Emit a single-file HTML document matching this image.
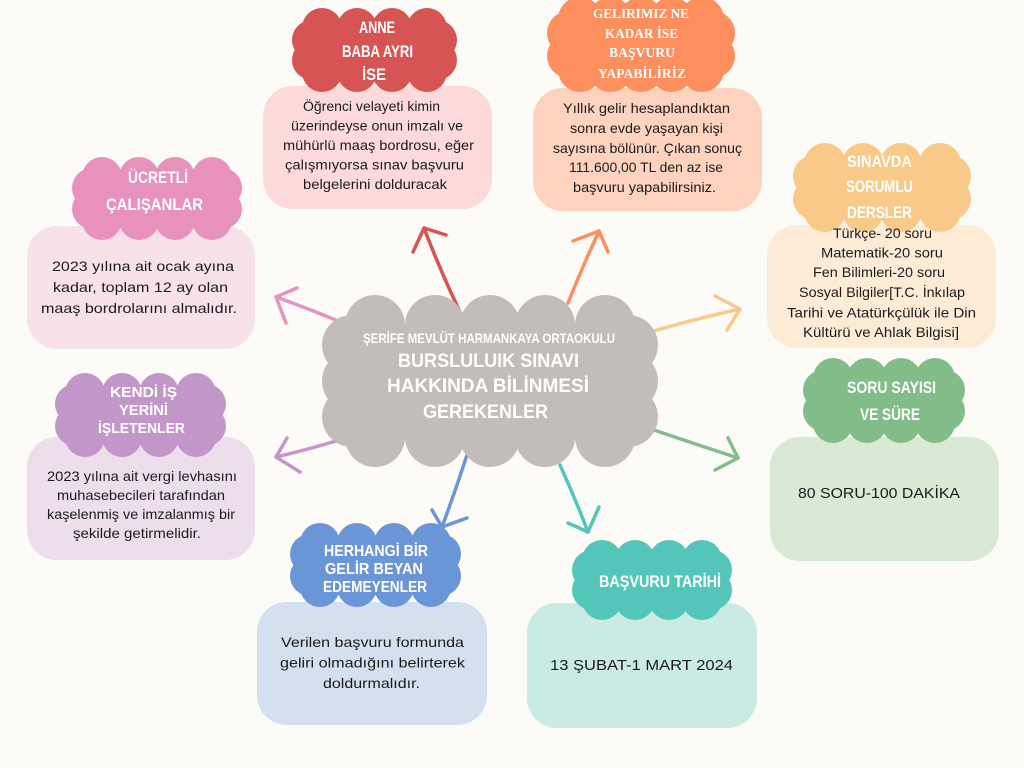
<!DOCTYPE html>
<html>
<head>
<meta charset="utf-8">
<style>
  html,body{margin:0;padding:0;background:#fdfbf7;}
  svg{display:block;}
  .h{font-family:"Liberation Sans Narrow","Liberation Sans",sans-serif;font-weight:bold;fill:#ffffff;font-size:16.5px;}
  .hs{font-family:"Liberation Serif",serif;font-weight:bold;fill:#ffffff;font-size:13.5px;}
  .b{font-family:"Liberation Sans","DejaVu Sans",sans-serif;fill:#1c1c1c;font-size:14px;}
  .bu{font-family:"Liberation Sans","DejaVu Sans",sans-serif;fill:#1c1c1c;font-size:14.5px;}
</style>
</head>
<body>
<svg width="1024" height="768" viewBox="0 0 1024 768" xmlns="http://www.w3.org/2000/svg">
  <rect x="0" y="0" width="1024" height="768" fill="#fdfbf7"/>

  <!-- arrows -->
  <g fill="none" stroke-width="3.5" stroke-linecap="round" stroke-linejoin="round">
    <g stroke="#d65454"><path d="M460,312 Q440,270 424,228"/><polyline points="446,235 424,228 413,252"/></g>
    <g stroke="#e891bd"><path d="M357,329 Q318,312 276,297"/><polyline points="297,288 276,297 286,323"/></g>
    <g stroke="#fd8f5f"><path d="M568,303 Q582,268 599,231"/><polyline points="573,241 599,231 608,252"/></g>
    <g stroke="#f9c98a"><path d="M640,335 Q690,320 740,309"/><polyline points="715,296 740,309 727,330"/></g>
    <g stroke="#c396c9"><path d="M355,435 Q315,448 276,457"/><polyline points="287,438 276,457 300,472"/></g>
    <g stroke="#6a96d8"><path d="M467,455 Q455,492 442,527"/><polyline points="432,510 442,527 467,518"/></g>
    <g stroke="#54c6b9"><path d="M560,465 Q575,498 588,532"/><polyline points="568,523 588,532 599,507"/></g>
    <g stroke="#82bd89"><path d="M645,427 Q692,443 738,458"/><polyline points="728,438 738,458 715,470"/></g>
  </g>

  <!-- cards -->
  <rect x="263" y="86" width="229" height="123" rx="30" fill="#fcdada"/>
  <rect x="533" y="88" width="229" height="123" rx="30" fill="#fdd2be"/>
  <rect x="27" y="226" width="228" height="123" rx="30" fill="#f9e1ec"/>
  <rect x="27" y="437" width="228" height="123" rx="30" fill="#ecdeeb"/>
  <rect x="767" y="225" width="229" height="123" rx="30" fill="#fdebd5"/>
  <rect x="770" y="437" width="229" height="124" rx="30" fill="#d9e9d6"/>
  <rect x="257" y="602" width="230" height="123" rx="30" fill="#d4dff0"/>
  <rect x="527" y="603" width="230" height="125" rx="30" fill="#c9ebe4"/>

  <!-- center cloud -->
  <g fill="#c3bdb9">
    <rect x="352" y="325" width="276" height="112"/>
    <circle cx="375" cy="325" r="30"/><circle cx="435" cy="325" r="30"/><circle cx="490" cy="325" r="30"/><circle cx="545" cy="325" r="30"/><circle cx="605" cy="325" r="30"/>
    <circle cx="375" cy="437" r="30"/><circle cx="435" cy="437" r="30"/><circle cx="490" cy="437" r="30"/><circle cx="545" cy="437" r="30"/><circle cx="605" cy="437" r="30"/>
    <circle cx="352" cy="345" r="30"/><circle cx="352" cy="381" r="30"/><circle cx="352" cy="417" r="30"/>
    <circle cx="628" cy="345" r="30"/><circle cx="628" cy="381" r="30"/><circle cx="628" cy="417" r="30"/>
  </g>

  <!-- Anne cloud -->
  <g fill="#d65454">
    <rect x="312" y="28" width="125" height="44"/>
    <circle cx="322" cy="28" r="20"/><circle cx="357" cy="28" r="20"/><circle cx="392" cy="28" r="20"/><circle cx="427" cy="28" r="20"/>
    <circle cx="322" cy="72" r="20"/><circle cx="357" cy="72" r="20"/><circle cx="392" cy="72" r="20"/><circle cx="427" cy="72" r="20"/>
    <circle cx="312" cy="40" r="20"/><circle cx="312" cy="60" r="20"/>
    <circle cx="437" cy="40" r="20"/><circle cx="437" cy="60" r="20"/>
  </g>

  <!-- Gelirimiz cloud -->
  <g fill="#fd8f5f">
    <rect x="569" y="19" width="144" height="51"/>
    <circle cx="580" cy="19" r="22"/><circle cx="610.5" cy="19" r="22"/><circle cx="641" cy="19" r="22"/><circle cx="671.5" cy="19" r="22"/><circle cx="702" cy="19" r="22"/>
    <circle cx="580" cy="70" r="22"/><circle cx="610.5" cy="70" r="22"/><circle cx="641" cy="70" r="22"/><circle cx="671.5" cy="70" r="22"/><circle cx="702" cy="70" r="22"/>
    <circle cx="569" cy="33" r="22"/><circle cx="569" cy="56" r="22"/>
    <circle cx="713" cy="33" r="22"/><circle cx="713" cy="56" r="22"/>
  </g>

  <!-- Ucretli cloud -->
  <g fill="#e891bd">
    <rect x="92" y="177" width="130" height="43"/>
    <circle cx="102" cy="177" r="20"/><circle cx="139" cy="177" r="20"/><circle cx="175" cy="177" r="20"/><circle cx="212" cy="177" r="20"/>
    <circle cx="102" cy="220" r="20"/><circle cx="139" cy="220" r="20"/><circle cx="175" cy="220" r="20"/><circle cx="212" cy="220" r="20"/>
    <circle cx="92" cy="188" r="20"/><circle cx="92" cy="209" r="20"/>
    <circle cx="222" cy="188" r="20"/><circle cx="222" cy="209" r="20"/>
  </g>

  <!-- Kendi cloud -->
  <g fill="#c396c9">
    <rect x="75" y="393" width="131" height="44"/>
    <circle cx="85" cy="393" r="20"/><circle cx="122" cy="393" r="20"/><circle cx="159" cy="393" r="20"/><circle cx="196" cy="393" r="20"/>
    <circle cx="85" cy="437" r="20"/><circle cx="122" cy="437" r="20"/><circle cx="159" cy="437" r="20"/><circle cx="196" cy="437" r="20"/>
    <circle cx="75" cy="404" r="20"/><circle cx="75" cy="426" r="20"/>
    <circle cx="206" cy="404" r="20"/><circle cx="206" cy="426" r="20"/>
  </g>

  <!-- Sinavda cloud -->
  <g fill="#f9c98a">
    <rect x="814" y="164" width="136" height="47"/>
    <circle cx="825" cy="164" r="21"/><circle cx="863" cy="164" r="21"/><circle cx="901" cy="164" r="21"/><circle cx="940" cy="164" r="21"/>
    <circle cx="825" cy="211" r="21"/><circle cx="863" cy="211" r="21"/><circle cx="901" cy="211" r="21"/><circle cx="940" cy="211" r="21"/>
    <circle cx="814" cy="176" r="21"/><circle cx="814" cy="199" r="21"/>
    <circle cx="950" cy="176" r="21"/><circle cx="950" cy="199" r="21"/>
  </g>

  <!-- Soru cloud -->
  <g fill="#82bd89">
    <rect x="823" y="378" width="122" height="45"/>
    <circle cx="833" cy="378" r="20"/><circle cx="867" cy="378" r="20"/><circle cx="901" cy="378" r="20"/><circle cx="935" cy="378" r="20"/>
    <circle cx="833" cy="423" r="20"/><circle cx="867" cy="423" r="20"/><circle cx="901" cy="423" r="20"/><circle cx="935" cy="423" r="20"/>
    <circle cx="823" cy="390" r="20"/><circle cx="823" cy="411" r="20"/>
    <circle cx="945" cy="390" r="20"/><circle cx="945" cy="411" r="20"/>
  </g>

  <!-- Herhangi cloud -->
  <g fill="#6a96d8">
    <rect x="310" y="543" width="131" height="44"/>
    <circle cx="320" cy="543" r="20"/><circle cx="357" cy="543" r="20"/><circle cx="394" cy="543" r="20"/><circle cx="431" cy="543" r="20"/>
    <circle cx="320" cy="587" r="20"/><circle cx="357" cy="587" r="20"/><circle cx="394" cy="587" r="20"/><circle cx="431" cy="587" r="20"/>
    <circle cx="310" cy="554" r="20"/><circle cx="310" cy="576" r="20"/>
    <circle cx="441" cy="554" r="20"/><circle cx="441" cy="576" r="20"/>
  </g>

  <!-- Basvuru cloud -->
  <g fill="#54c6b9">
    <rect x="592" y="560" width="120" height="40"/>
    <circle cx="602" cy="560" r="20"/><circle cx="635" cy="560" r="20"/><circle cx="669" cy="560" r="20"/><circle cx="702" cy="560" r="20"/>
    <circle cx="602" cy="600" r="20"/><circle cx="635" cy="600" r="20"/><circle cx="669" cy="600" r="20"/><circle cx="702" cy="600" r="20"/>
    <circle cx="592" cy="570" r="20"/><circle cx="592" cy="590" r="20"/>
    <circle cx="712" cy="570" r="20"/><circle cx="712" cy="590" r="20"/>
  </g>

  <!-- center text -->
  <text class="h" x="363" y="343" font-size="14" style="font-size:14px" textLength="252" lengthAdjust="spacingAndGlyphs">ŞERİFE MEVLÜT HARMANKAYA ORTAOKULU</text>
  <text class="h" x="398" y="367" style="font-size:19px" textLength="181" lengthAdjust="spacingAndGlyphs">BURSLULUIK SINAVI</text>
  <text class="h" x="387" y="392" style="font-size:19px" textLength="202" lengthAdjust="spacingAndGlyphs">HAKKINDA BİLİNMESİ</text>
  <text class="h" x="423" y="418" style="font-size:19px" textLength="125" lengthAdjust="spacingAndGlyphs">GEREKENLER</text>

  <!-- headers -->
  <text class="h" x="359" y="33" textLength="36" lengthAdjust="spacingAndGlyphs">ANNE</text>
  <text class="h" x="342" y="57" textLength="71" lengthAdjust="spacingAndGlyphs">BABA AYRI</text>
  <text class="h" x="362" y="80" textLength="24" lengthAdjust="spacingAndGlyphs">İSE</text>

  <text class="hs" x="593" y="18" textLength="96" lengthAdjust="spacingAndGlyphs">GELIRIMIZ NE</text>
  <text class="hs" x="605" y="38" textLength="73" lengthAdjust="spacingAndGlyphs">KADAR İSE</text>
  <text class="hs" x="609" y="57" textLength="66" lengthAdjust="spacingAndGlyphs">BAŞVURU</text>
  <text class="hs" x="598" y="78" textLength="88" lengthAdjust="spacingAndGlyphs">YAPABİLİRİZ</text>

  <text class="h" x="128" y="183" textLength="60" lengthAdjust="spacingAndGlyphs">ÜCRETLİ</text>
  <text class="h" x="106" y="210" textLength="97" lengthAdjust="spacingAndGlyphs">ÇALIŞANLAR</text>

  <text class="h" x="110" y="397" style="font-size:14.5px" textLength="67" lengthAdjust="spacingAndGlyphs">KENDİ İŞ</text>
  <text class="h" x="119" y="415" style="font-size:14.5px" textLength="49" lengthAdjust="spacingAndGlyphs">YERİNİ</text>
  <text class="h" x="98" y="433" style="font-size:14.5px" textLength="87" lengthAdjust="spacingAndGlyphs">İŞLETENLER</text>

  <text class="h" x="847" y="167" textLength="65" lengthAdjust="spacingAndGlyphs">SINAVDA</text>
  <text class="h" x="846" y="192" textLength="67" lengthAdjust="spacingAndGlyphs">SORUMLU</text>
  <text class="h" x="847" y="218" textLength="65" lengthAdjust="spacingAndGlyphs">DERSLER</text>

  <text class="h" x="847" y="393" textLength="89" lengthAdjust="spacingAndGlyphs">SORU SAYISI</text>
  <text class="h" x="860" y="420" textLength="60" lengthAdjust="spacingAndGlyphs">VE SÜRE</text>

  <text class="h" x="324" y="556" style="font-size:15.5px" textLength="104" lengthAdjust="spacingAndGlyphs">HERHANGİ BİR</text>
  <text class="h" x="325" y="574" style="font-size:15.5px" textLength="98" lengthAdjust="spacingAndGlyphs">GELİR BEYAN</text>
  <text class="h" x="323" y="592" style="font-size:15.5px" textLength="104" lengthAdjust="spacingAndGlyphs">EDEMEYENLER</text>

  <text class="h" x="599" y="587" textLength="122" lengthAdjust="spacingAndGlyphs">BAŞVURU TARİHİ</text>

  <!-- body texts -->
  <text class="b" x="303" y="111" textLength="137" lengthAdjust="spacingAndGlyphs">Öğrenci velayeti kimin</text>
  <text class="b" x="291" y="130.5" textLength="172" lengthAdjust="spacingAndGlyphs">üzerindeyse onun imzalı ve</text>
  <text class="b" x="283" y="150" textLength="191" lengthAdjust="spacingAndGlyphs">mühürlü maaş bordrosu, eğer</text>
  <text class="b" x="285" y="169.5" textLength="179" lengthAdjust="spacingAndGlyphs">çalışmıyorsa sınav başvuru</text>
  <text class="b" x="303" y="189" textLength="144" lengthAdjust="spacingAndGlyphs">belgelerini dolduracak</text>

  <text class="b" x="563" y="113" textLength="167" lengthAdjust="spacingAndGlyphs">Yıllık gelir hesaplandıktan</text>
  <text class="b" x="570" y="133" textLength="153" lengthAdjust="spacingAndGlyphs">sonra evde yaşayan kişi</text>
  <text class="b" x="553" y="153" textLength="189" lengthAdjust="spacingAndGlyphs">sayısına bölünür. Çıkan sonuç</text>
  <text class="b" x="569" y="172" textLength="154" lengthAdjust="spacingAndGlyphs">111.600,00 TL den az ise</text>
  <text class="b" x="573" y="192" textLength="143" lengthAdjust="spacingAndGlyphs">başvuru yapabilirsiniz.</text>

  <text class="b" x="52" y="271" textLength="182" lengthAdjust="spacingAndGlyphs">2023 yılına ait ocak ayına</text>
  <text class="b" x="53" y="292" textLength="175" lengthAdjust="spacingAndGlyphs">kadar, toplam 12 ay olan</text>
  <text class="b" x="41" y="313" textLength="196" lengthAdjust="spacingAndGlyphs">maaş bordrolarını almalıdır.</text>

  <text class="b" x="47" y="481" textLength="190" lengthAdjust="spacingAndGlyphs">2023 yılına ait vergi levhasını</text>
  <text class="b" x="57" y="500" textLength="168" lengthAdjust="spacingAndGlyphs">muhasebecileri tarafından</text>
  <text class="b" x="47" y="519" textLength="188" lengthAdjust="spacingAndGlyphs">kaşelenmiş ve imzalanmış bir</text>
  <text class="b" x="73" y="538" textLength="128" lengthAdjust="spacingAndGlyphs">şekilde getirmelidir.</text>

  <text class="b" x="833" y="238" textLength="99" lengthAdjust="spacingAndGlyphs">Türkçe- 20 soru</text>
  <text class="b" x="821" y="257.5" textLength="122" lengthAdjust="spacingAndGlyphs">Matematik-20 soru</text>
  <text class="b" x="813" y="277" textLength="132" lengthAdjust="spacingAndGlyphs">Fen Bilimleri-20 soru</text>
  <text class="b" x="799" y="297" textLength="166" lengthAdjust="spacingAndGlyphs">Sosyal Bilgiler[T.C. İnkılap</text>
  <text class="b" x="787" y="317.5" textLength="189" lengthAdjust="spacingAndGlyphs">Tarihi ve Atatürkçülük ile Din</text>
  <text class="b" x="803" y="337" textLength="156" lengthAdjust="spacingAndGlyphs">Kültürü ve Ahlak Bilgisi]</text>

  <text class="bu" x="798" y="498" textLength="162" lengthAdjust="spacingAndGlyphs">80 SORU-100 DAKİKA</text>

  <text class="b" x="281" y="647" textLength="183" lengthAdjust="spacingAndGlyphs">Verilen başvuru formunda</text>
  <text class="b" x="280" y="667.5" textLength="185" lengthAdjust="spacingAndGlyphs">geliri olmadığını belirterek</text>
  <text class="b" x="323" y="688" textLength="97" lengthAdjust="spacingAndGlyphs">doldurmalıdır.</text>

  <text class="bu" x="550" y="670" textLength="183" lengthAdjust="spacingAndGlyphs">13 ŞUBAT-1 MART 2024</text>
</svg>
</body>
</html>
